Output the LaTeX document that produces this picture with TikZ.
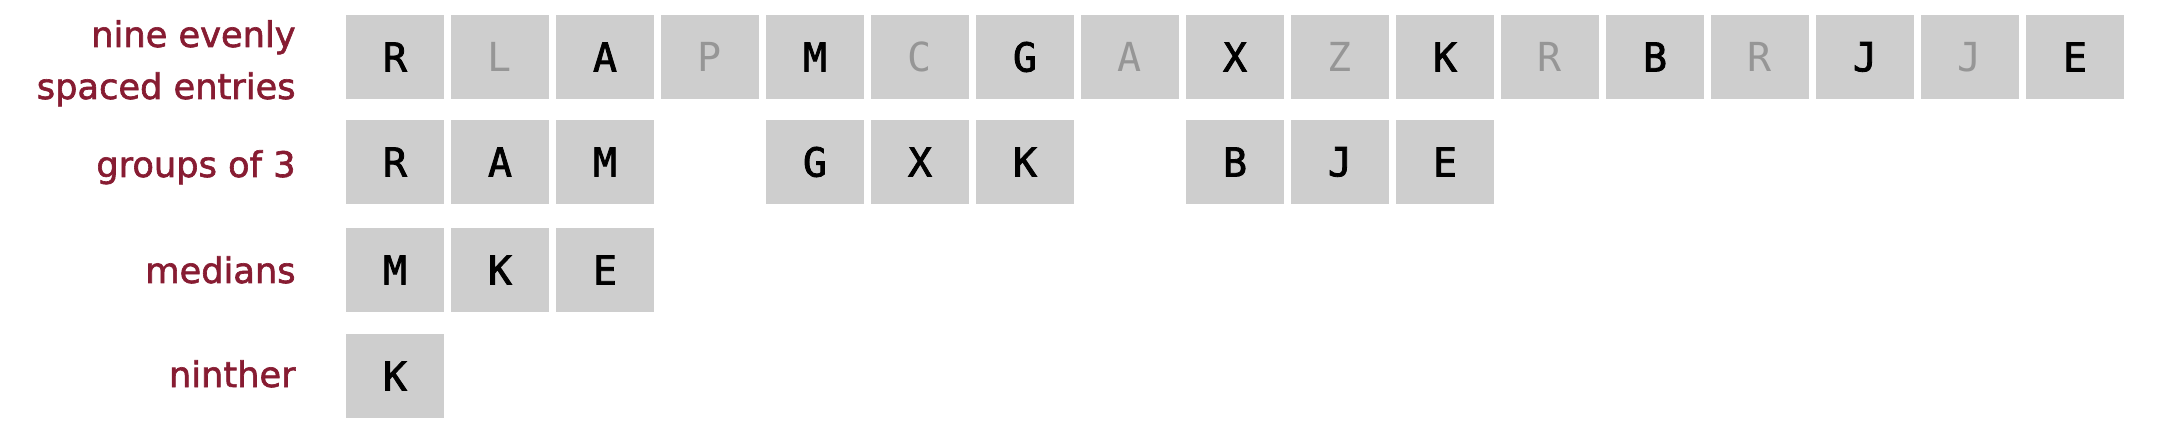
\documentclass[tikz,border=0pt]{standalone}
\usepackage{fontspec}
\setmainfont{DejaVu Sans}
\newfontfamily\lblfont{DejaVu Sans}[FakeBold=1.8]
\newfontfamily\boxfont{DejaVu Sans Mono}[FakeBold=2]
\newfontfamily\dimfont{DejaVu Sans Mono}
\definecolor{lblred}{RGB}{135,28,50}
\definecolor{boxgray}{RGB}{206,206,206}
\definecolor{dimtxt}{RGB}{150,150,150}
\begin{document}
\begin{tikzpicture}[x=0.5pt,y=-0.5pt,
  cell/.style={rectangle,fill=boxgray,draw=none,minimum width=49pt,minimum height=42pt,inner sep=0pt,
    font=\boxfont\fontsize{20}{24}\selectfont,text=black},
  dim/.style={cell,text=dimtxt,font=\dimfont\fontsize{20}{24}\selectfont},
  lbl/.style={text=lblred,font=\lblfont\fontsize{17.6}{26}\selectfont,inner sep=0pt}]
\useasboundingbox (0,0) rectangle (2182,448);
% row 1
\foreach \L [count=\i from 0] in {R,L,A,P,M,C,G,A,X,Z,K,R,B,R,J,J,E}{
  \pgfmathtruncatemacro{\odd}{mod(\i,2)}
  \ifnum\odd=0
    \node[cell] (a\i) at ({395+105*\i},57) {\L};
  \else
    \node[dim] (a\i) at ({395+105*\i},57) {\L};
  \fi
}
% row 2
\foreach \L/\p in {R/0,A/1,M/2,G/4,X/5,K/6,B/8,J/9,E/10}{
  \node[cell] (b\p) at ({395+105*\p},162) {\L};
}
% row 3
\foreach \L/\p in {M/0,K/1,E/2}{
  \node[cell] (c\p) at ({395+105*\p},270) {\L};
}
% row 4
\node[cell] (d0) at (395,376) {K};
% labels
\node[lbl,anchor=base east,align=right] (l1) at (296,99) {nine evenly\\spaced entries};
\node[lbl,anchor=base east] (l2) at (296,177) {groups of 3};
\node[lbl,anchor=base east] (l3) at (296,283) {medians};
\node[lbl,anchor=base east] (l4) at (296,387) {ninther};
\end{tikzpicture}
\end{document}
